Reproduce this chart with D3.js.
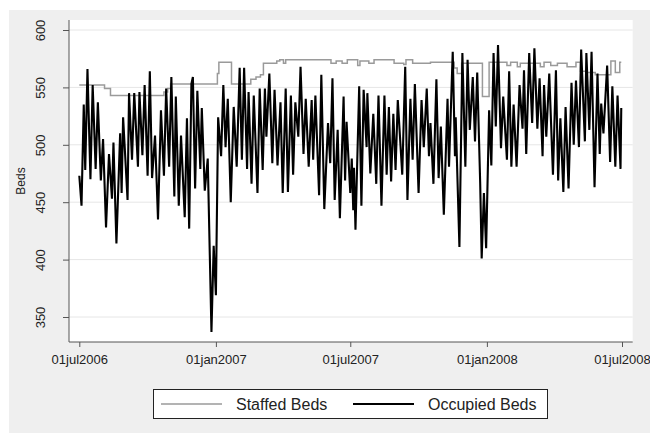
<!DOCTYPE html>
<html>
<head>
<meta charset="utf-8">
<script src="https://cdn.jsdelivr.net/npm/d3@7"></script>
<style>
  body { margin: 0; background: #fff; }
  text { font-family: "Liberation Sans", Arial, Helvetica, sans-serif; fill: #222; }
</style>
</head>
<body>
<div id="chart"></div>
<script>
// series: days since 01jul2006 and bed counts
var occDay = [0,3,6,8,11,15,18,22,25,29,32,36,40,44,46,50,55,57,59,65,67,71,74,79,81,85,88,92,95,98,102,106,110,114,117,121,124,128,130,134,137,142,145,148,151,153,156,159,163,165,169,173,178,181,184,187,191,194,197,200,204,208,212,216,219,222,226,228,232,235,240,243,247,250,252,256,260,263,267,271,274,278,281,285,288,291,295,298,302,305,309,313,315,318,323,326,330,335,338,341,344,348,351,356,358,360,362,365,367,369,370,372,377,380,383,387,388,392,396,400,403,407,411,414,417,420,423,426,429,435,439,442,446,449,452,457,461,464,468,471,473,477,481,484,487,491,496,498,503,506,507,512,516,520,523,526,530,533,536,540,542,545,548,552,555,558,561,564,568,571,576,579,582,585,589,593,597,599,602,606,610,613,617,620,624,626,629,633,638,642,645,648,652,655,659,663,666,669,673,676,681,683,687,690,694,698,701,703,706,711,715,718,722,725,729,730];
var occBeds = [473,447,535,478,566,470,552,479,537,469,505,428,492,453,502,414,510,458,524,452,545,487,545,481,546,491,552,473,564,471,508,435,530,473,549,481,559,455,542,447,508,437,523,427,553,559,462,547,479,532,460,488,337,412,369,524,490,552,498,540,450,533,481,567,487,567,479,546,466,543,458,549,478,549,507,562,484,548,482,537,458,549,459,543,474,537,507,568,492,540,481,539,487,543,456,561,444,519,484,558,452,513,436,542,469,520,495,458,488,443,480,426,551,447,548,498,545,475,527,466,543,447,543,474,533,468,527,478,539,474,568,452,540,487,553,458,539,498,549,490,519,466,557,471,516,439,540,481,581,490,524,411,580,481,574,513,559,503,563,466,401,458,410,530,482,580,516,587,497,542,487,564,481,535,481,552,514,565,492,580,519,584,514,558,490,552,507,562,474,565,469,523,459,533,462,554,500,556,498,583,503,580,513,581,463,562,492,536,510,569,485,551,481,543,479,532];

var staffDay = [0,34,42,114,119,123,186,188,205,231,238,244,248,266,270,275,278,339,346,354,361,375,378,390,397,424,437,440,449,460,473,505,509,515,543,552,576,581,590,594,621,626,635,644,657,669,675,683,695,716,722,728,730];
var staffBeds = [552,549,543,546,549,553,562,572,553,557,559,561,571,573,574,571,574,571,573,571,574,569,573,571,574,571,570,574,571,571,572,567,562,571,542,572,569,572,568,571,568,572,569,571,568,572,564,563,561,573,563,572,572];

var seriesNames = ["Staffed Beds", "Occupied Beds"];
var seriesColors = ["#9a9a9a", "#000000"];
var yTicks = [350, 400, 450, 500, 550, 600];
var xTickDates = ["2006-07-01", "2007-01-01", "2007-07-01", "2008-01-01", "2008-07-01"];

function dayToDate(d){ return new Date(Date.UTC(2006, 6, 1 + d)); }

var width = 650, height = 433;
var plot = {left: 69, top: 20, right: 632.7, bottom: 342};

var svg = d3.select("#chart").append("svg")
  .attr("width", width)
  .attr("height", height);

svg.append("rect").attr("width", width).attr("height", height).attr("fill", "#fff");
svg.append("rect").attr("x", 9).attr("y", 10).attr("width", width - 9).attr("height", height - 10).attr("fill", "#efefef");
svg.append("rect")
  .attr("x", plot.left).attr("y", plot.top)
  .attr("width", plot.right - plot.left).attr("height", plot.bottom - plot.top)
  .attr("fill", "#fff");

var x = d3.scaleUtc()
  .domain([new Date(Date.UTC(2006, 6, 1)), new Date(Date.UTC(2008, 6, 1))])
  .range([79.3, 622]);

var y = d3.scaleLinear()
  .domain([350, 600])
  .range([317, 30]);

// grid
svg.append("g")
  .selectAll("line")
  .data(yTicks)
  .enter().append("line")
    .attr("x1", plot.left).attr("x2", plot.right)
    .attr("y1", function(d){ return y(d); })
    .attr("y2", function(d){ return y(d); })
    .attr("stroke", "#e6e6e6")
    .attr("stroke-width", 1);

// x axis
var fmt = d3.utcFormat("%d%b%Y");
var xAxis = svg.append("g")
  .attr("transform", "translate(0," + plot.bottom + ")")
  .call(d3.axisBottom(x)
    .tickValues(xTickDates.map(function(s){ return new Date(s + "T00:00:00Z"); }))
    .tickFormat(function(d){ return fmt(d).toLowerCase(); })
    .tickSize(5)
    .tickPadding(8));
xAxis.select(".domain").remove();
xAxis.selectAll("line").attr("stroke", "#555");
xAxis.selectAll("text").style("font-size", "13px").style("font-family", "Liberation Sans, Arial, sans-serif").attr("fill", "#222");

// y axis
var yAxis = svg.append("g")
  .attr("transform", "translate(" + plot.left + ",0)")
  .call(d3.axisLeft(y).tickValues(yTicks).tickSize(6));
yAxis.select(".domain").remove();
yAxis.selectAll("line").attr("stroke", "#555");
yAxis.selectAll("text")
  .attr("x", null).attr("dy", null)
  .attr("text-anchor", "middle")
  .attr("transform", "translate(-24,0) rotate(-90)")
  .style("font-size", "13px").style("font-family", "Liberation Sans, Arial, sans-serif").attr("fill", "#222");

svg.append("line")
  .attr("x1", plot.left).attr("x2", plot.left)
  .attr("y1", plot.top).attr("y2", plot.bottom)
  .attr("stroke", "#555");
svg.append("line")
  .attr("x1", plot.left).attr("x2", plot.right)
  .attr("y1", plot.bottom).attr("y2", plot.bottom)
  .attr("stroke", "#555");

svg.append("text")
  .attr("transform", "translate(25," + ((plot.top + plot.bottom) / 2) + ") rotate(-90)")
  .attr("text-anchor", "middle")
  .style("font-size", "12px")
  .text("Beds");

// lines
var staffed = staffDay.map(function(d, i){ return {date: dayToDate(d), v: staffBeds[i]}; });
var occupied = occDay.map(function(d, i){ return {date: dayToDate(d), v: occBeds[i]}; });

svg.append("path")
  .datum(staffed)
  .attr("fill", "none")
  .attr("stroke", seriesColors[0])
  .attr("stroke-width", 1.5)
  .attr("d", d3.line()
    .curve(d3.curveStepAfter)
    .x(function(d){ return x(d.date); })
    .y(function(d){ return y(d.v); }));

svg.append("path")
  .datum(occupied)
  .attr("fill", "none")
  .attr("stroke", seriesColors[1])
  .attr("stroke-width", 2.1)
  .attr("stroke-linejoin", "miter")
  .attr("d", d3.line()
    .x(function(d){ return x(d.date); })
    .y(function(d){ return y(d.v); }));

// legend
var legend = svg.append("g");
legend.append("rect")
  .attr("x", 153.5).attr("y", 389.5)
  .attr("width", 394).attr("height", 29)
  .attr("fill", "#fff").attr("stroke", "#222");

var keyX = [161, 353];
seriesNames.forEach(function(name, i){
  legend.append("line")
    .attr("x1", keyX[i]).attr("x2", keyX[i] + 61)
    .attr("y1", 404).attr("y2", 404)
    .attr("stroke", seriesColors[i])
    .attr("stroke-width", i === 0 ? 1.5 : 2.1);
  legend.append("text")
    .attr("x", keyX[i] + 75).attr("y", 409.5)
    .style("font-size", "16px")
    .text(name);
});
</script>
</body>
</html>
